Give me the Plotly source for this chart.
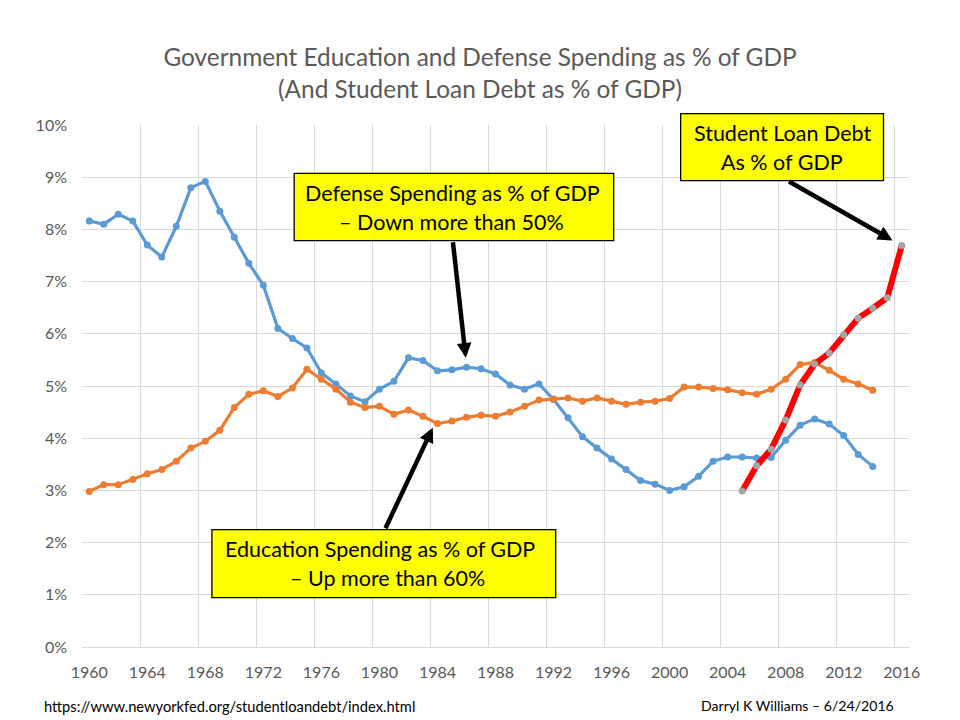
import plotly.graph_objects as go

first_year = 1960
last_year = 2016
years = [str(y) for y in range(first_year, last_year + 1)]
tick_labels = [str(y) for y in range(first_year, last_year + 1, 4)]

defense_pct = [8.16, 8.10, 8.29, 8.16, 7.70, 7.47, 8.06, 8.80, 8.92, 8.35,
               7.85, 7.35, 6.93, 6.10, 5.91, 5.73, 5.25, 5.04, 4.81, 4.70,
               4.94, 5.09, 5.54, 5.49, 5.29, 5.31, 5.36, 5.33, 5.23, 5.02,
               4.94, 5.04, 4.74, 4.39, 4.03, 3.81, 3.60, 3.40, 3.19, 3.12,
               3.00, 3.07, 3.27, 3.56, 3.64, 3.64, 3.62, 3.63, 3.96, 4.25,
               4.37, 4.27, 4.05, 3.69, 3.46]
education_pct = [2.98, 3.11, 3.11, 3.21, 3.32, 3.40, 3.56, 3.81, 3.94, 4.15,
                 4.59, 4.84, 4.91, 4.80, 4.96, 5.32, 5.13, 4.94, 4.69, 4.59,
                 4.61, 4.46, 4.54, 4.42, 4.28, 4.33, 4.40, 4.44, 4.42, 4.50,
                 4.61, 4.73, 4.75, 4.77, 4.71, 4.77, 4.71, 4.65, 4.69, 4.71,
                 4.76, 4.98, 4.98, 4.95, 4.93, 4.87, 4.84, 4.94, 5.13, 5.41,
                 5.45, 5.30, 5.13, 5.04, 4.92]
loan_years = [str(y) for y in range(2005, 2017)]
loan_pct = [2.99, 3.47, 3.79, 4.35, 5.02, 5.42, 5.63, 5.98, 6.30, 6.49, 6.69, 7.69]

W, H = 960, 720
PAGE = 8  # browser body margin around the figure
L, R, T, B = 82, 909.5, 125.3, 647.3
FONT = "Lato, Carlito, sans-serif"
GREY = "#595959"
GRID = "#d9d9d9"


def px(x):
    return (x - L) / (R - L)


def py(y):
    return (B - y) / (B - T)


fig = go.Figure()
fig.add_trace(go.Scatter(x=years[:len(defense_pct)], y=defense_pct, mode="lines+markers",
                         line=dict(color="#5b9bd5", width=3.2), marker=dict(size=7, color="#5b9bd5"),
                         name="Defense"))
fig.add_trace(go.Scatter(x=years[:len(education_pct)], y=education_pct, mode="lines+markers",
                         line=dict(color="#ed7d31", width=3.2), marker=dict(size=7, color="#ed7d31"),
                         name="Education"))
fig.add_trace(go.Scatter(x=loan_years, y=loan_pct, mode="lines+markers",
                         line=dict(color="#ff0000", width=6), marker=dict(size=7, color="#a5a5a5"),
                         name="Student Loan Debt"))

boxes = [(294.3, 173.7, 614, 241), (681, 114, 884, 181), (212, 530, 556, 598)]
shapes = [dict(type="rect", xref="paper", yref="paper", x0=px(a), x1=px(c), y0=py(d), y1=py(b),
               fillcolor="#ffff00", line=dict(color="#000000", width=1.3), layer="above")
          for a, b, c, d in boxes]

labels = [("Defense Spending as % of GDP", 452.5, 193), ("– Down more than 50%", 452, 222),
          ("Student Loan Debt", 782.5, 133), ("As % of GDP", 782.5, 162),
          ("Education Spending as % of GDP", 380, 549), ("– Up more than 60%", 388, 578)]
ann = [dict(text=t, xref="paper", yref="paper", x=px(x), y=py(y), showarrow=False,
            xanchor="center", yanchor="middle", font=dict(family=FONT, size=21.5, color="#000000"))
       for t, x, y in labels]

arrows = [((453, 241), (466, 358)), ((788, 181), (893, 240.7)), ((385, 530), (433, 428))]
for (x0, y0), (x1, y1) in arrows:
    ann.append(dict(text="", xref="paper", yref="paper", x=px(x1), y=py(y1), ax=x0 - x1, ay=y0 - y1,
                    showarrow=True, arrowhead=2, arrowsize=0.65, arrowwidth=4.5, arrowcolor="#000000",
                    standoff=0, startstandoff=0))

ann.append(dict(text="https://www.newyorkfed.org/studentloandebt/index.html", xref="paper", yref="paper",
                x=px(42), y=py(706), xanchor="left", yanchor="middle", showarrow=False,
                font=dict(family=FONT, size=14.7, color="#000000")))
ann.append(dict(text="Darryl K Williams – 6/24/2016", xref="paper", yref="paper",
                x=px(896), y=py(706), xanchor="right", yanchor="middle", showarrow=False,
                font=dict(family=FONT, size=14.1, color="#000000")))

fig.update_layout(
    width=W, height=H, autosize=False, showlegend=False,
    paper_bgcolor="white", plot_bgcolor="white",
    margin=dict(l=L - PAGE, r=W - R + PAGE, t=T - PAGE, b=H - B + PAGE, autoexpand=False),
    title=dict(text="Government Education and Defense Spending as % of GDP<br>(And Student Loan Debt as % of GDP)",
               x=(480 - PAGE) / W, xanchor="center", xref="container", y=1 - 58 / H, yanchor="top",
               font=dict(family=FONT, size=24.4, color=GREY)),
    font=dict(family=FONT, color=GREY),
    shapes=shapes, annotations=ann,
    xaxis=dict(type="category", categoryorder="array", categoryarray=years,
               range=[-0.5, len(years) - 0.5], tickson="boundaries", tickmode="array",
               tickvals=tick_labels, ticktext=tick_labels, showgrid=True, gridcolor=GRID, gridwidth=1.3,
               showline=True, linecolor=GRID, linewidth=1.3, ticks="", zeroline=False, tickangle=0,
               ticklabelstandoff=11, tickfont=dict(family=FONT, size=16, color=GREY)),
    yaxis=dict(range=[0, 10], tickmode="linear", tick0=0, dtick=1, ticksuffix="%", showgrid=True,
               gridcolor=GRID, gridwidth=1.3, zeroline=False, showline=False, ticks="",
               ticklabelstandoff=14, tickfont=dict(family=FONT, size=16, color=GREY)),
)
fig.write_html("out.html")
